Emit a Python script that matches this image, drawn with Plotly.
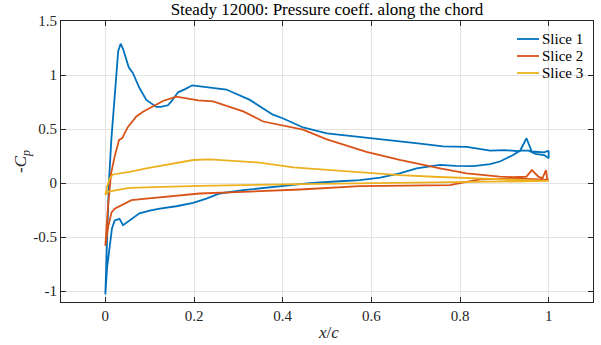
import plotly.graph_objects as go

# ---- data ----
s1_upper_x = [1.0, 0.99, 0.97, 0.962, 0.95, 0.935, 0.90, 0.868, 0.815, 0.762, 0.70, 0.664, 0.60, 0.55, 0.50,
              0.446, 0.40, 0.378, 0.326, 0.273, 0.24, 0.196, 0.18, 0.164, 0.150, 0.141, 0.125, 0.115,
              0.0925, 0.077, 0.062, 0.053, 0.040, 0.0345, 0.029, 0.023, 0.0135, 0.008, 0.004, 0.0]
s1_upper_y = [0.30, 0.285, 0.29, 0.29, 0.415, 0.295, 0.305, 0.30, 0.335, 0.34, 0.37, 0.385, 0.415, 0.435, 0.46,
              0.515, 0.60, 0.633, 0.77, 0.866, 0.88, 0.905, 0.87, 0.84, 0.76, 0.72, 0.705, 0.705,
              0.77, 0.88, 1.02, 1.07, 1.24, 1.29, 1.22, 0.90, 0.40, 0.0, -0.5, -1.03]
s1_lower_x = [0.004, 0.0097, 0.015, 0.021, 0.032, 0.040, 0.055, 0.077, 0.10, 0.123, 0.16, 0.198, 0.228,
              0.258, 0.311, 0.386, 0.461, 0.52, 0.574, 0.62, 0.664, 0.702, 0.755, 0.79, 0.83, 0.868, 0.89,
              0.905, 0.92, 0.935, 0.955, 0.97, 0.99, 1.0, 1.0]
s1_lower_y = [-0.78, -0.59, -0.42, -0.345, -0.33, -0.39, -0.345, -0.28, -0.255, -0.236, -0.214, -0.183, -0.143,
              -0.096, -0.065, -0.034, 0.0, 0.015, 0.028, 0.05, 0.09, 0.137, 0.168, 0.16, 0.158, 0.175, 0.20,
              0.23, 0.26, 0.30, 0.30, 0.27, 0.26, 0.23, 0.30]

s2_upper_x = [1.0, 0.997, 0.994, 0.986, 0.977, 0.962, 0.95, 0.92, 0.89, 0.815, 0.755, 0.664, 0.589, 0.498,
              0.446, 0.40, 0.356, 0.311, 0.273, 0.243, 0.21, 0.186, 0.16, 0.13, 0.107, 0.085, 0.07, 0.051,
              0.038, 0.031, 0.021, 0.013, 0.006, 0.0]
s2_upper_y = [0.03, 0.03, 0.12, 0.044, 0.06, 0.12, 0.06, 0.055, 0.06, 0.09, 0.137, 0.214, 0.29, 0.407,
              0.494, 0.53, 0.57, 0.664, 0.717, 0.757, 0.765, 0.78, 0.80, 0.76, 0.71, 0.66, 0.617, 0.52,
              0.416, 0.40, 0.245, 0.09, -0.22, -0.58]
s2_lower_x = [0.006, 0.014, 0.021, 0.036, 0.059, 0.0925, 0.168, 0.213, 0.311, 0.439, 0.574, 0.70, 0.777,
              0.815, 0.845, 0.928, 1.0]
s2_lower_y = [-0.41, -0.27, -0.236, -0.205, -0.158, -0.143, -0.112, -0.096, -0.081, -0.059, -0.028, -0.02,
              -0.019, 0.012, 0.034, 0.044, 0.03]

s3_upper_x = [1.0, 0.9, 0.815, 0.74, 0.664, 0.589, 0.514, 0.424, 0.348, 0.28, 0.235, 0.198, 0.145, 0.0925,
              0.055, 0.030, 0.017, 0.01, 0.004, 0.0]
s3_upper_y = [0.02, 0.035, 0.044, 0.059, 0.074, 0.096, 0.121, 0.146, 0.19, 0.21, 0.22, 0.214, 0.177, 0.137,
              0.105, 0.09, 0.08, 0.044, -0.03, -0.11]
s3_lower_x = [0.006, 0.025, 0.055, 0.13, 0.213, 0.439, 0.664, 0.89, 1.0]
s3_lower_y = [-0.08, -0.065, -0.044, -0.034, -0.025, -0.01, 0.0, 0.012, 0.02]

series_names = ["Slice 1", "Slice 2", "Slice 3"]
series_colors = ["#0072BD", "#D95319", "#EDB120"]

x_ticks = [0, 0.2, 0.4, 0.6, 0.8, 1]
x_ticktext = ["0", "0.2", "0.4", "0.6", "0.8", "1"]
y_ticks = [-1, -0.5, 0, 0.5, 1, 1.5]
y_ticktext = ["-1", "-0.5", "0", "0.5", "1", "1.5"]

series = [
    (s1_upper_x + s1_lower_x, s1_upper_y + s1_lower_y),
    (s2_upper_x + s2_lower_x, s2_upper_y + s2_lower_y),
    (s3_upper_x + s3_lower_x, s3_upper_y + s3_lower_y),
]

FONT = "Liberation Serif"
AX = "#262626"

W, H = 601, 345
L, R, T, B = 61, 8, 21, 43
PW, PH = W - L - R, H - T - B


def px_to_paper(px, py):
    return (px - L) / PW, (H - B - py) / PH


fig = go.Figure()
for (xs, ys), name, col in zip(series, series_names, series_colors):
    fig.add_trace(go.Scatter(x=xs, y=ys, mode="lines", name=name, showlegend=False,
                             line=dict(color=col, width=1.8)))

# legend drawn by hand (MATLAB-style, compact, no box)
shapes = []
annots = []
for i, (name, col) in enumerate(zip(series_names, series_colors)):
    yc = 39 + 17 * i
    x0, y0 = px_to_paper(517, yc)
    x1, _ = px_to_paper(539, yc)
    shapes.append(dict(type="line", xref="paper", yref="paper", x0=x0, x1=x1, y0=y0, y1=y0,
                       line=dict(color=col, width=1.8)))
    tx, _ = px_to_paper(540, yc)
    annots.append(dict(text=name, xref="paper", yref="paper", x=tx, y=y0, xanchor="left",
                       yanchor="middle", showarrow=False,
                       font=dict(family=FONT, size=15, color="black")))

# axis titles as annotations (fixed placement, no margin pushing)
xl_x, xl_y = px_to_paper(328, 332)
annots.append(dict(text="<i>x</i>/<i>c</i>", xref="paper", yref="paper", x=xl_x, y=xl_y,
                   xanchor="center", yanchor="middle", showarrow=False,
                   font=dict(family=FONT, size=17, color=AX)))
yl_x, yl_y = px_to_paper(22, 162)
annots.append(dict(text="-<i>C</i><sub><i>p</i></sub>", xref="paper", yref="paper", x=yl_x, y=yl_y,
                   xanchor="center", yanchor="middle", showarrow=False, textangle=-90,
                   font=dict(family=FONT, size=17, color=AX)))

axis_common = dict(
    showline=True, linecolor=AX, linewidth=1, mirror="ticks",
    ticks="inside", ticklen=5, tickwidth=1, tickcolor=AX,
    showgrid=True, gridcolor="#e3e3e3", gridwidth=1, automargin=False,
    zeroline=False, tickfont=dict(family=FONT, size=15, color=AX),
)

fig.update_layout(
    width=W, height=H,
    margin=dict(l=L, r=R, t=T, b=B),
    font=dict(family=FONT),
    paper_bgcolor="white", plot_bgcolor="white",
    title=dict(text="Steady 12000: Pressure coeff. along the chord",
               x=(L + W - R) / 2 / W, xanchor="center",
               y=1 - 9 / H, yanchor="middle",
               font=dict(family=FONT, size=17, color="black")),
    xaxis=dict(range=[-0.1, 1.1], tickvals=x_ticks, ticktext=x_ticktext, **axis_common),
    yaxis=dict(range=[-1.1, 1.5], tickvals=y_ticks, ticktext=y_ticktext, **axis_common),
    shapes=shapes,
    annotations=annots,
    showlegend=False,
)

fig.write_html("out.html")
